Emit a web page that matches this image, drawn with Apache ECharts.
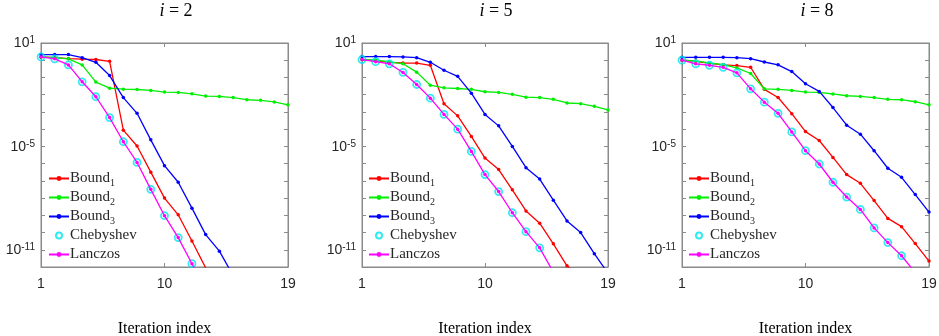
<!DOCTYPE html>
<html><head><meta charset="utf-8">
<script src="https://cdn.jsdelivr.net/npm/echarts@6/dist/echarts.min.js"></script>
<style>html,body{margin:0;padding:0;background:#fff}#c{width:939px;height:336px}</style>
</head><body><div id="c"></div>
<script>
// ---- data ----
const iterations = [1,2,3,4,5,6,7,8,9,10,11,12,13,14,15,16,17,18,19];
const panelLabels = ['2','5','8'];
const xTickValues = [1,10,19];
const yLabelExponents = [1,-5,-11];
const seriesNames = ['Bound1','Bound2','Bound3','Chebyshev','Lanczos'];

// i = 2
const bound1_i2 = [1.55,1.41,1.23,1.15,1.10,0.87,8.7e-5,1.05e-5,3.2e-7,1.0e-8,1.07e-9,3.2e-11,8.9e-13];
const bound2_i2 = [1.55,1.41,1.20,0.537,0.0537,0.024,0.0209,0.0200,0.0178,0.0141,0.0135,0.0112,0.0083,0.0079,0.0068,0.0051,0.0047,0.0038,0.0026];
const bound3_i2 = [2.14,2.14,2.14,1.41,0.76,0.129,6.8e-3,8.3e-4,2.4e-5,7.6e-7,8.3e-8,2.6e-9,7.6e-11,8.3e-12,3.2e-13];
const cheb_i2   = [1.55,1.20,0.537,0.056,7.6e-3,4.7e-4,1.86e-5,1.17e-6,3.2e-8,9.5e-10,5.1e-11,1.55e-12];
const lanczos_i2= [1.55,1.20,0.537,0.056,7.6e-3,4.7e-4,1.86e-5,1.17e-6,3.2e-8,9.5e-10,5.1e-11,1.55e-12,5e-14];

// i = 5
const bound1_i5 = [1.10,0.91,0.76,0.69,0.68,0.51,3.0e-3,5.9e-4,3.8e-5,2.1e-6,4.5e-7,3.0e-8,1.8e-9,3.5e-10,2.2e-11,1.17e-12,2.5e-13];
const bound2_i5 = [1.10,1.0,0.83,0.62,0.204,0.0355,0.0251,0.0229,0.0204,0.0148,0.0135,0.0105,0.0072,0.0068,0.0054,0.0033,0.0030,0.0021,0.0013];
const bound3_i5 = [1.62,1.62,1.62,1.55,1.41,0.76,0.263,0.117,0.0123,7.2e-4,1.55e-4,1.0e-5,5.8e-7,1.26e-7,7.6e-9,4.7e-10,1.0e-10,5.9e-12,4.3e-13];
const cheb_i5   = [1.10,0.83,0.62,0.195,0.039,6.3e-3,7.2e-4,1.0e-4,5.1e-6,2.3e-7,2.4e-8,1.41e-9,1.12e-10,1.29e-11];
const lanczos_i5= [1.10,0.83,0.62,0.195,0.039,6.3e-3,7.2e-4,1.0e-4,5.1e-6,2.3e-7,2.4e-8,1.41e-9,1.12e-10,1.29e-11,5e-13];

// i = 8
const bound1_i8 = [1.0,0.87,0.65,0.54,0.49,0.39,0.0204,6.9e-3,7.9e-4,7.2e-5,2.2e-5,2.3e-6,2.3e-7,7.2e-8,7.2e-9,6.6e-10,2.2e-10,2.3e-11,2.2e-12];
const bound2_i8 = [1.0,0.91,0.69,0.56,0.36,0.17,0.0219,0.0204,0.0178,0.0141,0.0135,0.011,0.0087,0.0079,0.0068,0.0054,0.0051,0.0039,0.0026];
const bound3_i8 = [1.48,1.48,1.48,1.48,1.41,1.23,0.79,0.54,0.22,0.043,0.0155,1.8e-3,1.7e-4,5.1e-5,5.6e-6,5.4e-7,1.6e-7,1.6e-8,1.55e-9];
const cheb_i8   = [1.0,0.62,0.51,0.39,0.186,0.0219,3.7e-3,8.3e-4,6.9e-5,5.6e-6,9.5e-7,8.3e-8,1.15e-8,2.2e-9,1.86e-10,2.6e-11,4.5e-12];
const lanczos_i8= [1.0,0.62,0.51,0.39,0.186,0.0219,3.7e-3,8.3e-4,6.9e-5,5.6e-6,9.5e-7,8.3e-8,1.15e-8,2.2e-9,1.86e-10,2.6e-11,4.5e-12,4.7e-13];

const panels = [
  [bound1_i2,bound2_i2,bound3_i2,cheb_i2,lanczos_i2],
  [bound1_i5,bound2_i5,bound3_i5,cheb_i5,lanczos_i5],
  [bound1_i8,bound2_i8,bound3_i8,cheb_i8,lanczos_i8]
];

// ---- layout / style ----
const gridLeft = [41, 362, 682];
const gridWidth = [247, 246, 247];
const gridTop = 43, gridHeight = 224;
const titleX = [171, 491, 812];
const legendLeft = [48, 368, 688];
const colors = ['#ff0000','#00ee00','#0000ff','#00e5ee','#ff00ff'];
const axisColor = '#8a8a8a';
const labelColor = '#262626';
const sans = 'Liberation Sans, Arial, sans-serif';
const serif = 'Liberation Serif, Times New Roman, serif';

const chart = echarts.init(document.getElementById('c'), null, {renderer:'canvas'});

const grids = [], xAxes = [], yAxes = [], series = [], titles = [], legends = [];
function zip(arr){ return arr.map((v,k)=>[iterations[k], v]); }

for (let p = 0; p < 3; p++) {
  grids.push({left: gridLeft[p], top: gridTop, width: gridWidth[p], height: gridHeight,
    show: true, borderColor: axisColor, borderWidth: 1, containLabel: false, outerBoundsMode: 'none'});
  const xb = {type:'value', gridIndex:p, min:1, max:19, interval:9, position:'bottom',
    axisLine:{show:true, lineStyle:{color:axisColor}},
    axisTick:{show:true, inside:true, length:4, lineStyle:{color:axisColor}},
    splitLine:{show:false},
    axisLabel:{show:true, color:labelColor, fontFamily:sans, fontSize:14, margin:10,
      formatter: v => xTickValues.includes(v) ? String(v) : ''},
    name:'Iteration index', nameLocation:'middle', nameGap:54,
    nameTextStyle:{fontFamily:serif, fontSize:16, color:'#000'}};
  const xt = {type:'value', gridIndex:p, min:1, max:19, interval:9, position:'top',
    axisLine:{show:true, lineStyle:{color:axisColor}},
    axisTick:{show:true, inside:true, length:4, lineStyle:{color:axisColor}},
    splitLine:{show:false}, axisLabel:{show:false}};
  xAxes.push(xb, xt);
  const yl = {type:'log', logBase:10, gridIndex:p, min:1e-12, max:10, interval:1, position:'left',
    axisLine:{show:true, lineStyle:{color:axisColor}},
    axisTick:{show:true, inside:true, length:4, lineStyle:{color:axisColor}},
    splitLine:{show:false}, minorTick:{show:false},
    axisLabel:{show:true, interval:0, margin:6, showMinLabel:true, showMaxLabel:true,
      formatter: v => { const e = Math.round(Math.log10(v)); return yLabelExponents.includes(e) ? '{b|10}{s|'+e+'}' : ''; },
      rich:{ b:{fontFamily:sans, fontSize:14, color:labelColor, verticalAlign:'bottom', lineHeight:15, padding:[4,0,0,0]},
             s:{fontFamily:sans, fontSize:10, color:labelColor, verticalAlign:'top', lineHeight:11} }}};
  const yr = {type:'log', logBase:10, gridIndex:p, min:1e-12, max:10, interval:1, position:'right',
    axisLine:{show:true, lineStyle:{color:axisColor}},
    axisTick:{show:true, inside:true, length:4, lineStyle:{color:axisColor}},
    splitLine:{show:false}, axisLabel:{show:false}};
  yAxes.push(yl, yr);

  const xi = 2*p, yi = 2*p;
  const d = panels[p];
  [0,1,2].forEach(k => {
    series.push({type:'line', name:seriesNames[k], xAxisIndex:xi, yAxisIndex:yi, data:zip(d[k]),
      symbol:'circle', symbolSize:3.5, showSymbol:true, showAllSymbol:true, clip:true,
      lineStyle:{color:colors[k], width:1.3}, itemStyle:{color:colors[k]}, animation:false, z:2+k});
  });
  series.push({type:'scatter', name:seriesNames[3], xAxisIndex:xi, yAxisIndex:yi, data:zip(d[3]),
    symbol:'circle', symbolSize:7, clip:true,
    itemStyle:{color:'rgba(0,0,0,0)', borderColor:colors[3], borderWidth:1.8}, animation:false, z:5});
  series.push({type:'line', name:seriesNames[4], xAxisIndex:xi, yAxisIndex:yi, data:zip(d[4]),
    symbol:'circle', symbolSize:3.5, showSymbol:true, showAllSymbol:true, clip:true,
    lineStyle:{color:colors[4], width:1.3}, itemStyle:{color:colors[4]}, animation:false, z:6});

  titles.push({text:'{i|i} = ' + panelLabels[p], left:titleX[p], top:-3, textAlign:'center',
    textStyle:{fontFamily:serif, fontSize:18, fontWeight:'normal', color:'#000',
      rich:{i:{fontFamily:serif, fontSize:18, fontStyle:'italic', color:'#000'}}}});
  legends.push({orient:'vertical', left:legendLeft[p], top:171, itemWidth:20, itemHeight:6, itemGap:2,
    padding:0, data:seriesNames, selectedMode:false,
    formatter: n => n.startsWith('Bound') ? '{m|Bound}{s|' + n.slice(5) + '}' : '{m|' + n + '}{s| }',
    textStyle:{fontFamily:serif, fontSize:15, color:'#262626', padding:[0,0,0,-4],
      rich:{m:{fontFamily:serif, fontSize:15, color:'#262626', lineHeight:19, verticalAlign:'middle'},
            s:{fontFamily:serif, fontSize:10, color:'#262626', lineHeight:11, verticalAlign:'bottom'}}}});
}

chart.setOption({
  animation:false,
  backgroundColor:'#fff',
  title:titles, legend:legends, grid:grids, xAxis:xAxes, yAxis:yAxes, series:series
});
</script></body></html>
